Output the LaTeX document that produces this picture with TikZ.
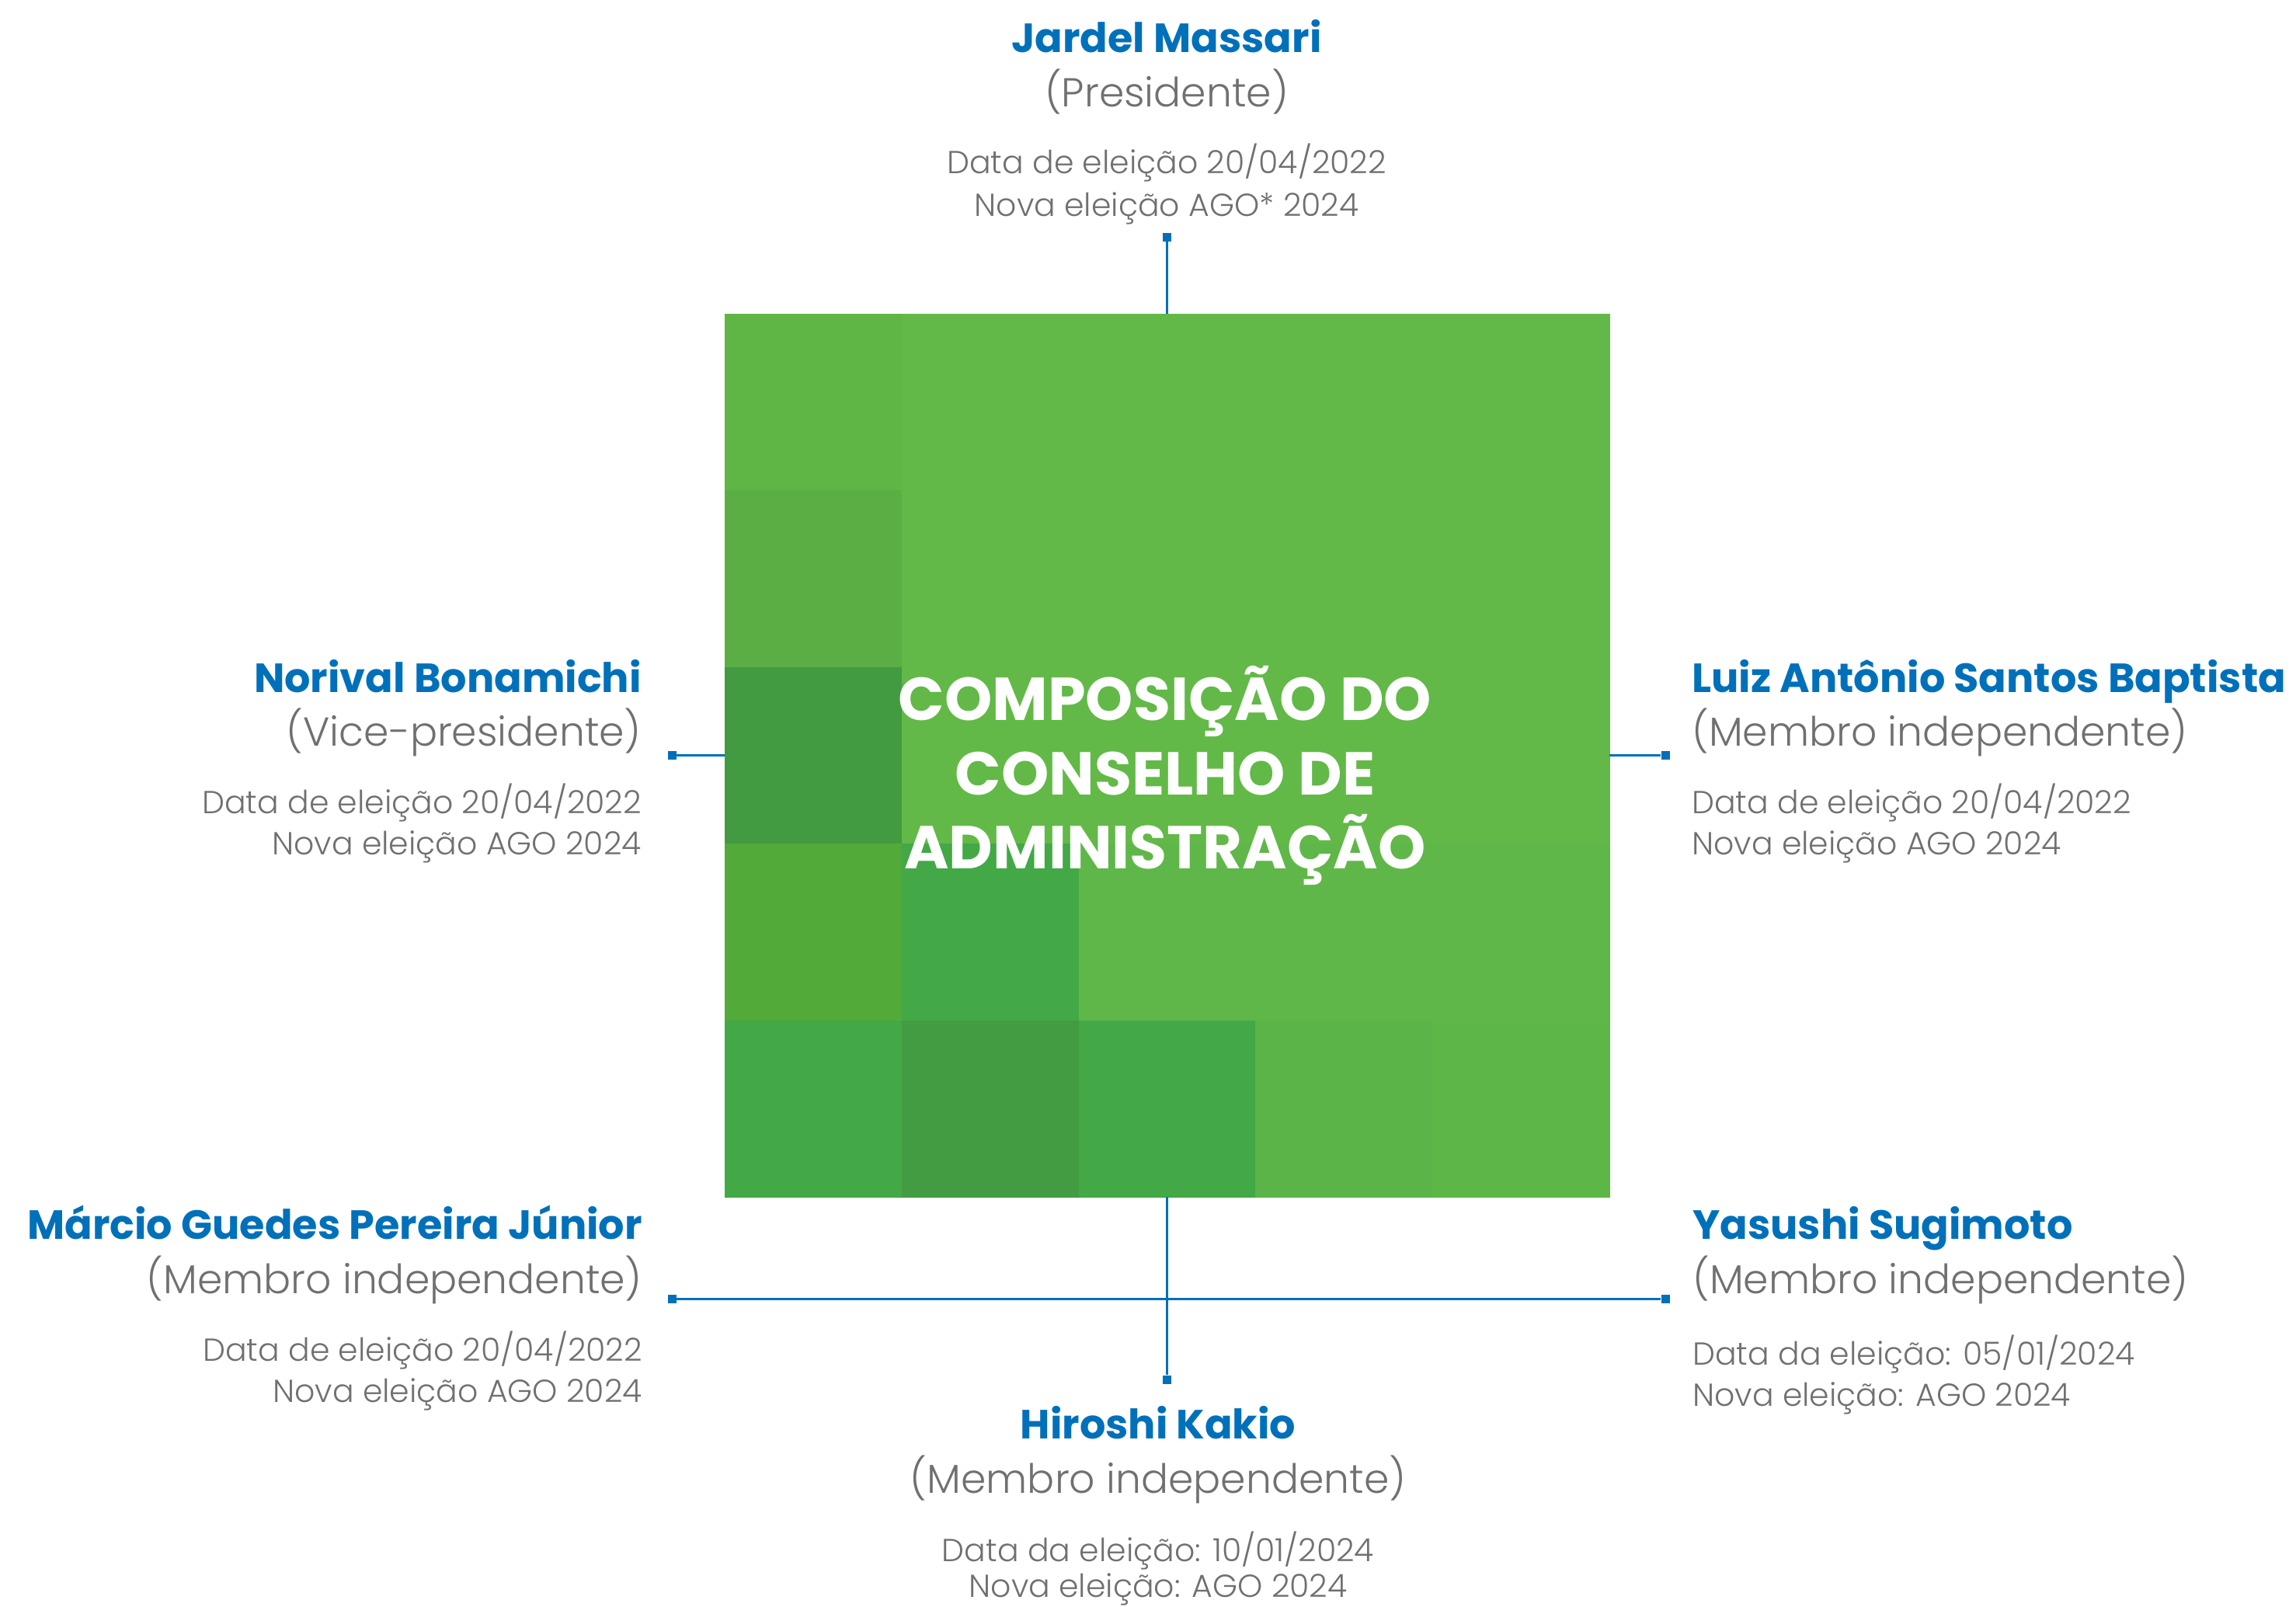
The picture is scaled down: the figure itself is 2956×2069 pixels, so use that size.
\documentclass[tikz,border=0pt]{standalone}
\usepackage{fontspec}
\setmainfont{Poppins}
\newfontfamily\lightfont{Poppins Light}
\definecolor{cblue}{HTML}{0070BA}
\definecolor{cgray}{HTML}{707070}
\definecolor{ga}{HTML}{62B947}
\definecolor{gb}{HTML}{5FB645}
\definecolor{gc}{HTML}{5BAE43}
\definecolor{gd}{HTML}{439B41}
\definecolor{ge}{HTML}{52AB38}
\definecolor{gf}{HTML}{43A846}
\definecolor{gg}{HTML}{5FB749}
\definecolor{gh}{HTML}{439C41}
\definecolor{gi}{HTML}{5BB447}
\definecolor{gj}{HTML}{5DB747}
\tikzset{
  nm/.style={font=\bfseries\fontsize{52.5}{62}\selectfont, text=cblue, inner sep=0pt},
  rl/.style={font=\lightfont\fontsize{52}{62}\selectfont, text=cgray, inner sep=0pt},
  dt/.style={font=\lightfont\fontsize{41}{50}\selectfont, text=cgray, inner sep=0pt},
  ttl/.style={font=\bfseries\fontsize{78}{94}\selectfont, text=white, inner sep=0pt},
  ln/.style={draw=cblue, line width=3pt},
  mk/.style={fill=cblue, draw=none, minimum size=11pt, inner sep=0pt, rectangle},
  board/.style={draw=none, minimum width=1139pt, minimum height=1137pt, inner sep=0pt}
}
\begin{document}
\begin{tikzpicture}[x=1pt,y=-1pt]
\useasboundingbox (0,0) rectangle (2956,2069);
% grid of cells
\foreach \r/\c/\col in {
  0/0/gb,0/1/ga,0/2/ga,0/3/ga,0/4/ga,
  1/0/gc,1/1/ga,1/2/ga,1/3/ga,1/4/ga,
  2/0/gd,2/1/ga,2/2/ga,2/3/ga,2/4/ga,
  3/0/ge,3/1/gf,3/2/gg,3/3/gg,3/4/gg,
  4/0/gf,4/1/gh,4/2/gf,4/3/gi,4/4/gj}
  \fill[\col] ({933+\c*227.8},{404+\r*227.4}) rectangle ++(228.3,227.9);
\node[board] (sq) at (1502.5,972.5) {};
\node[ttl, anchor=base] (t1) at (1500,927) {COMPOSIÇÃO DO};
\node[ttl, anchor=base] (t2) at (1500,1023) {CONSELHO DE};
\node[ttl, anchor=base] (t3) at (1500,1118) {ADMINISTRAÇÃO};
% markers and connectors
\node[mk] (mt) at (1502.5,305) {};
\node[mk] (ml) at (865,972.5) {};
\node[mk] (mr) at (2144,972.5) {};
\node[mk] (mb) at (1502.5,1776) {};
\node[mk] (mbl) at (865,1672) {};
\node[mk] (mbr) at (2144,1672) {};
\draw[ln] (sq.north) -- (mt);
\draw[ln] (sq.west) -- (ml);
\draw[ln] (sq.east) -- (mr);
\draw[ln] (sq.south) -- (mb);
\draw[ln] (mbl) -- (mbr);
% top: Jardel
\node[nm, anchor=base] (jn) at (1502,67) {Jardel Massari};
\node[rl, anchor=base] (jr) at (1502,137) {(Presidente)};
\node[dt, anchor=base] (jd) at (1502,223) {Data de eleição 20/04/2022};
\node[dt, anchor=base] (jv) at (1502,278) {Nova eleição AGO* 2024};
% left: Norival
\node[nm, anchor=base east] (nn) at (826,891) {Norival Bonamichi};
\node[rl, anchor=base east] (nr) at (826,960) {(Vice-presidente)};
\node[dt, anchor=base east] (nd) at (826,1047) {Data de eleição 20/04/2022};
\node[dt, anchor=base east] (nv) at (826,1100) {Nova eleição AGO 2024};
% right: Luiz
\node[nm, anchor=base west] (ln) at (2178,891) {Luiz Antônio Santos Baptista};
\node[rl, anchor=base west] (lr) at (2178,960) {(Membro independente)};
\node[dt, anchor=base west] (ld) at (2178,1047) {Data de eleição 20/04/2022};
\node[dt, anchor=base west] (lv) at (2178,1100) {Nova eleição AGO 2024};
% bottom left: Marcio
\node[nm, anchor=base east] (mn) at (827,1595) {Márcio Guedes Pereira Júnior};
\node[rl, anchor=base east] (mrl) at (827,1665) {(Membro independente)};
\node[dt, anchor=base east] (md) at (827,1752) {Data de eleição 20/04/2022};
\node[dt, anchor=base east] (mv) at (827,1805) {Nova eleição AGO 2024};
% bottom right: Yasushi
\node[nm, anchor=base west] (yn) at (2179,1595) {Yasushi Sugimoto};
\node[rl, anchor=base west] (yr) at (2179,1665) {(Membro independente)};
\node[dt, anchor=base west] (yd) at (2179,1757) {Data da eleição: 05/01/2024};
\node[dt, anchor=base west] (yv) at (2179,1810) {Nova eleição: AGO 2024};
% bottom: Hiroshi
\node[nm, anchor=base] (hn) at (1491,1852) {Hiroshi Kakio};
\node[rl, anchor=base] (hr) at (1491,1922) {(Membro independente)};
\node[dt, anchor=base] (hd) at (1491,2010) {Data da eleição: 10/01/2024};
\node[dt, anchor=base] (hv) at (1491,2056) {Nova eleição: AGO 2024};
\end{tikzpicture}
\end{document}
